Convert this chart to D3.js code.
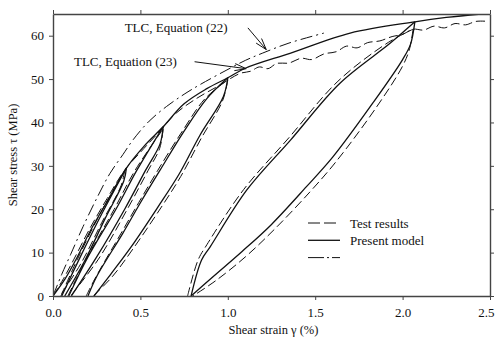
<!DOCTYPE html>
<html><head><meta charset="utf-8">
<script src="https://cdn.jsdelivr.net/npm/d3@7"></script>
<style>body{margin:0;background:#fff}svg{display:block}text{font-family:"Liberation Serif","DejaVu Serif",serif;fill:#111}</style>
</head><body><div id="chart"></div>
<script>
// ---- data (strain %, stress MPa) ----
const xTicks = [0, 0.5, 1.0, 1.5, 2.0, 2.5];
const yTicks = [0, 10, 20, 30, 40, 50, 60];
const xDomain = [0, 2.5];
const yDomain = [0, 65];

// TLC Equation (22) (dash-dot)
const tlcEq22 = [[0,0],[0.05,5],[0.1,9.5],[0.172,16],[0.25,22.5],[0.325,28.2],[0.4,32.6],[0.458,36],[0.55,40.3],[0.65,43.7],[0.75,46.5],[0.84,48.7],[0.99,52],[1.1,54.3],[1.2,56],[1.35,58.3],[1.55,60.6]];

// Present model (solid)
const modelSkeleton = [[0,0],[0.07,4],[0.13,8.3],[0.22,15.5],[0.32,22.5],[0.42,29.5],[0.52,34.5],[0.63,39],[0.75,44.3],[0.88,47.8],[1.0,50.3],[1.1,52.5],[1.36,56],[1.7,60.6],[2.07,63.2],[2.25,64.2],[2.45,65]];
const modelUnload0 = [[0.42,29.5],[0.405,26.5],[0.3,18],[0.18,8],[0.067,0]];
const modelReload0 = [[0.05,0],[0.15,8.5],[0.28,19],[0.42,29.5]];
const modelUnload1 = [[0.63,39],[0.612,35],[0.53,29],[0.41,20],[0.25,9],[0.105,0]];
const modelReload1 = [[0.09,0],[0.2,9],[0.36,20],[0.48,29],[0.63,39]];
const modelUnload2 = [[1.0,50.3],[0.975,46],[0.84,37],[0.72,28],[0.6,20.5],[0.45,11.5],[0.33,5],[0.235,0]];
const modelReload2 = [[0.2,0],[0.25,4.5],[0.4,14.5],[0.5,21.5],[0.62,29.5],[0.75,38],[0.88,45.5],[1.0,50.3]];
const modelUnload3 = [[2.07,63.2],[2.045,58],[2.0,54.5],[1.83,44.5],[1.6,32],[1.45,25.2],[1.25,16.5],[1.08,10.2],[0.917,4.5],[0.79,0]];
const modelReload3 = [[0.79,0],[0.85,8.3],[0.9,11.4],[1.11,24.5],[1.36,36],[1.64,49],[1.93,58.3],[2.07,63.2]];

// Test results (dashed)
const testSkeleton = [[0,0],[0.06,4],[0.12,8.5],[0.21,15.5],[0.31,22.5],[0.41,29],[0.52,34],[0.6,37.5],[0.7,42],[0.82,45.5],[0.95,48.5],[1.07,51.3],[1.13,51.8],[1.18,52.8],[1.23,52.4],[1.28,53.6],[1.35,53.7],[1.42,54.8],[1.48,54.5],[1.55,55.8],[1.62,56.3],[1.68,57.6],[1.74,57.2],[1.8,58.4],[1.87,58.8],[1.94,59.8],[2.0,60.3],[2.06,61.5],[2.12,61.3],[2.18,62.2],[2.24,61.8],[2.3,62.8],[2.36,62.5],[2.42,63.3],[2.49,63.3]];
const testUnload0 = [[0.41,29],[0.39,25.5],[0.28,17],[0.16,7.5],[0.04,0]];
const testReload0 = [[0.045,0],[0.14,8.5],[0.27,19],[0.41,29]];
const testUnload1 = [[0.63,38.5],[0.61,34],[0.545,29],[0.425,20],[0.26,8.5],[0.1,0]];
const testReload1 = [[0.085,0],[0.19,8.5],[0.35,20],[0.47,29],[0.63,38.5]];
const testUnload2 = [[1.0,49.8],[0.97,45],[0.85,36.5],[0.73,27.5],[0.62,20.5],[0.46,11],[0.34,4.5],[0.23,0]];
const testReload2 = [[0.19,0],[0.24,4],[0.39,14.5],[0.49,21.5],[0.6,29],[0.74,38],[0.87,45.5],[1.0,49.8]];
const testUnload3 = [[2.06,61.5],[2.04,57],[2.0,53],[1.85,43.5],[1.62,31],[1.47,24],[1.27,15.5],[1.1,9],[0.93,3.5],[0.8,0]];
const testReload3 = [[0.77,0],[0.83,8.3],[0.88,11.8],[1.09,24.5],[1.35,36.5],[1.63,49.5],[1.92,58.5],[2.06,61.5]];

const legendLabels = ["Test results", "Present model", ""];
const annotations = [
  {text: "TLC, Equation (22)", tx: 0.41, ty: 60.9, from: [1.115, 61.8], to: [1.22, 56.8]},
  {text: "TLC, Equation (23)", tx: 0.12, ty: 52.9, from: [0.81, 54.0], to: [1.105, 52.4]}
];

// ---- drawing ----
const W = 497, H = 343;
const m = {left: 53, right: 7, top: 14, bottom: 47};
const svg = d3.select("#chart").append("svg").attr("width", W).attr("height", H);
const x = d3.scaleLinear().domain(xDomain).range([m.left, W - m.right]);
const y = d3.scaleLinear().domain(yDomain).range([H - m.bottom, m.top]);

svg.append("defs").append("clipPath").attr("id", "clip")
  .append("rect").attr("x", m.left).attr("y", m.top)
  .attr("width", W - m.left - m.right).attr("height", H - m.top - m.bottom);

const line = d3.line().x(d => x(d[0])).y(d => y(d[1])).curve(d3.curveCatmullRom.alpha(0.5));
const g = svg.append("g").attr("clip-path", "url(#clip)");

const styles = {
  test: {dash: "9,4", w: 1},
  model: {dash: null, w: 1.3},
  tlc: {dash: "12,4,2,4", w: 1}
};
function draw(data, st) {
  g.append("path").attr("d", line(data)).attr("fill", "none")
    .attr("stroke", "#111").attr("stroke-width", st.w)
    .attr("stroke-dasharray", st.dash).attr("stroke-linejoin", "round");
}
[testSkeleton, testUnload0, testReload0, testUnload1, testReload1, testUnload2, testReload2, testUnload3, testReload3]
  .forEach(d => draw(d, styles.test));
[modelSkeleton, modelUnload0, modelReload0, modelUnload1, modelReload1, modelUnload2, modelReload2, modelUnload3, modelReload3]
  .forEach(d => draw(d, styles.model));
draw(tlcEq22, styles.tlc);

// axes
const axisColor = "#444";
function styleAxis(sel) {
  sel.selectAll("path").attr("stroke", axisColor).attr("stroke-width", 1.4);
  sel.selectAll("line").attr("stroke", axisColor).attr("stroke-width", 1);
  sel.selectAll("text").attr("font-size", 13).attr("font-family", '"Liberation Serif",serif').attr("fill", "#111");
}
const xMinor = d3.range(0, 2.5001, 0.1);
const yMinor = d3.range(0, 65.001, 2);

const axB = svg.append("g").attr("transform", `translate(0,${H - m.bottom})`);
axB.call(d3.axisBottom(x).tickValues(xMinor).tickSize(2.5).tickFormat("")).call(styleAxis);
axB.call(d3.axisBottom(x).tickValues(xTicks).tickSize(4).tickSizeOuter(0).tickPadding(8).tickFormat(d3.format(".1f"))).call(styleAxis);
axB.selectAll(".tick text").filter(d => d === 2.5).attr("text-anchor", "end").attr("dx", "0.3em");
const axT = svg.append("g").attr("transform", `translate(0,${m.top})`);
axT.call(d3.axisTop(x).tickValues(xMinor).tickSize(2.5).tickFormat("")).call(styleAxis);
axT.call(d3.axisTop(x).tickValues(xTicks).tickSize(4).tickSizeOuter(0).tickFormat("")).call(styleAxis);
const axL = svg.append("g").attr("transform", `translate(${m.left},0)`);
axL.call(d3.axisLeft(y).tickValues(yMinor).tickSize(2.5).tickFormat("")).call(styleAxis);
axL.call(d3.axisLeft(y).tickValues(yTicks).tickSize(4).tickSizeOuter(0).tickPadding(5).tickFormat(d3.format("d"))).call(styleAxis);
const axR = svg.append("g").attr("transform", `translate(${W - m.right},0)`);
axR.call(d3.axisRight(y).tickValues(yMinor).tickSize(2.5).tickFormat("")).call(styleAxis);
axR.call(d3.axisRight(y).tickValues(yTicks).tickSize(4).tickSizeOuter(0).tickFormat("")).call(styleAxis);

// axis titles
svg.append("text").attr("x", (m.left + W - m.right) / 2 + 2).attr("y", 334)
  .attr("text-anchor", "middle").attr("font-size", 12.5).text("Shear strain γ (%)");
svg.append("text").attr("transform", `translate(17,${(m.top + H - m.bottom) / 2}) rotate(-90)`)
  .attr("text-anchor", "middle").attr("font-size", 12.5).text("Shear stress τ (MPa)");

// annotations
annotations.forEach(a => {
  svg.append("text").attr("x", x(a.tx)).attr("y", y(a.ty)).attr("font-size", 13).text(a.text);
  const [x1, y1] = [x(a.from[0]), y(a.from[1])], [x2, y2] = [x(a.to[0]), y(a.to[1])];
  svg.append("line").attr("x1", x1).attr("y1", y1).attr("x2", x2).attr("y2", y2).attr("stroke", "#111").attr("stroke-width", 1);
  const ang = Math.atan2(y2 - y1, x2 - x1), L = 12, s = 0.3;
  [ang + Math.PI - s, ang + Math.PI + s].forEach(t => {
    svg.append("line").attr("x1", x2).attr("y1", y2)
      .attr("x2", x2 + L * Math.cos(t)).attr("y2", y2 + L * Math.sin(t))
      .attr("stroke", "#111").attr("stroke-width", 1);
  });
});

// legend
const legendStyles = [styles.test, styles.model, styles.tlc];
const lg = svg.append("g").attr("transform", "translate(308,223)");
legendLabels.forEach((t, i) => {
  const st = legendStyles[i];
  lg.append("line").attr("x1", 0).attr("x2", 32).attr("y1", i * 17.3).attr("y2", i * 17.3)
    .attr("stroke", "#111").attr("stroke-width", st.w).attr("stroke-dasharray", st.dash === "9,4" ? "12,4" : (st.dash ? "16,3,2,3" : null));
  lg.append("text").attr("x", 42).attr("y", i * 17.3 + 4.5).attr("font-size", 13).text(t);
});
</script></body></html>
